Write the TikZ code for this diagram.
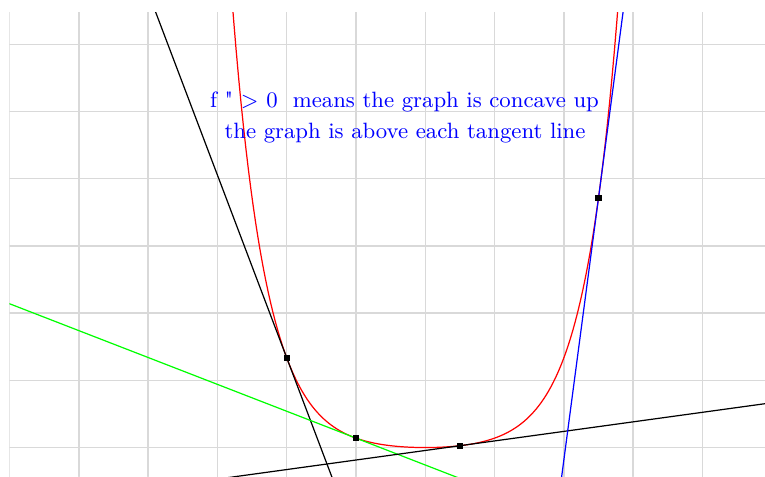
\documentclass[tikz,border=0pt]{standalone}
\begin{document}
\begin{tikzpicture}[x=1cm,y=0.9697cm,line cap=round,line join=round,
  declare function={f(\x)=0.0508*(cosh(2*(\x-6))-1);},
  gridline/.style={line width=0.6pt,draw=black!15},
  graphline/.style={line width=0.5pt},
  dot/.style={fill=black,inner sep=0pt,minimum size=2.5pt},
  note/.style={text=blue,anchor=base,font=\fontsize{9.1}{11}\selectfont}]
  \useasboundingbox (-0.137,-0.4315) rectangle (10.902,6.66);
  \clip (0,-0.4315) rectangle (10.902,6.48);
  \foreach \i in {0,...,10} \draw[gridline] (\i,-0.4315) -- (\i,6.48);
  \foreach \j in {0,...,6} \draw[gridline] (0,\j) -- (10.902,\j);
  \draw[graphline,red] plot[domain=3.2:8.8,samples=160] (\x,{f(\x)});
  % tangent lines
  \foreach \a/\m/\c in {4/-2.72/black,5/-0.40/green,6.5/0.142/black,8.5/7.8/blue}
    \draw[graphline,\c] plot[domain=0:10.902,samples=2] (\x,{f(\a)+\m*(\x-\a)});
  \node[dot] (P1) at (4,{f(4)}) {};
  \node[dot] (P2) at (5,{f(5)}) {};
  \node[dot] (P3) at (6.5,{f(6.5)}) {};
  \node[dot] (P4) at (8.5,{f(8.5)}) {};
  \node[note] (concave) at (5.7,5.057) {f \textquotedbl\ > 0\ \ means the graph is concave up};
  \node[note] (above) at (5.707,4.606) {the graph is above each tangent line};
\end{tikzpicture}
\end{document}
